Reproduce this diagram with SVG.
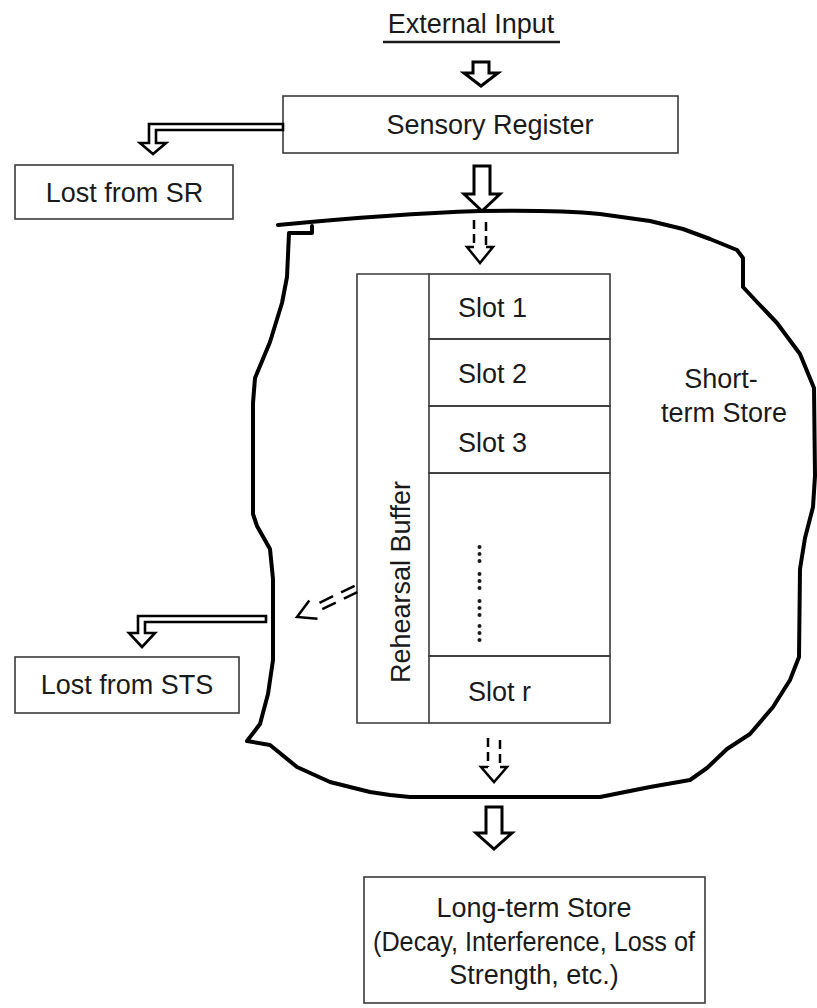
<svg xmlns="http://www.w3.org/2000/svg" width="817" height="1008" viewBox="0 0 817 1008">
<style>
text { font-family: "Liberation Sans", Arial, Helvetica, sans-serif; font-size: 27px; fill: #1a1a1a; }
.box { fill: #fff; stroke: #3a3a3a; stroke-width: 1.6; }
.grid { fill: none; stroke: #3a3a3a; stroke-width: 1.6; }
.harrow { fill: #fff; stroke: #000; stroke-width: 3; }
.larrow { fill: #fff; stroke: #000; stroke-width: 2.6; }
.dash { fill: none; stroke: #000; stroke-width: 2.5; stroke-dasharray: 9 5; }
.head { fill: none; stroke: #000; stroke-width: 2.5; }
.blob { fill: none; stroke: #000; stroke-width: 4; stroke-linejoin: round; stroke-linecap: round; }
.dot { fill: #1a1a1a; }
</style>
<rect width="817" height="1008" fill="#fff"/>

<g id="external-input">
  <text x="471" y="33" text-anchor="middle">External Input</text>
  <line x1="383" y1="42" x2="560" y2="42" stroke="#1a1a1a" stroke-width="2.5"/>
</g>

<g id="sensory-register">
  <rect class="box" x="283" y="96" width="395" height="57"/>
  <text x="490" y="134" text-anchor="middle">Sensory Register</text>
</g>

<g id="lost-from-sr">
  <rect class="box" x="15" y="165" width="218" height="54"/>
  <text x="124.5" y="202" text-anchor="middle">Lost from SR</text>
</g>

<g id="short-term-store">
  <path class="blob" d="M278,225 C330,220 420,213 480,211 C540,210 580,212 600,214 L650,221 L683,229 L710,239 L737,250 L743,258 L743,287 L757,302 L777,323 L800,354 L814,388 L815,476 L813,507 L805,538 L800,569 L799,657 L790,680 L773,707 L750,734 L727,749 L707,768 L690,780 L650,787 L600,797 L410,797 L390,795 L370,792 L330,782 L297,767 L270,745 L247,741 L260,724 L268,694 L273,660 L273,579 L270,549 L257,526 L253,514 L253,403 L255,378 L270,342 L282,303 L287,277 L289,233 L312,233 L312,226"/>
  <text x="721" y="388" text-anchor="middle">Short-</text>
  <text x="724" y="422" text-anchor="middle">term Store</text>
</g>

<g id="rehearsal-buffer">
  <polyline class="grid" points="429,274 357,274 357,723 429,723"/>
  <text transform="translate(410,582) rotate(-90)" text-anchor="middle">Rehearsal Buffer</text>
</g>

<g id="slot-1">
  <rect class="grid" x="429" y="274" width="181" height="65"/>
  <text x="458" y="317">Slot 1</text>
</g>
<g id="slot-2">
  <rect class="grid" x="429" y="339" width="181" height="67"/>
  <text x="458" y="383">Slot 2</text>
</g>
<g id="slot-3">
  <rect class="grid" x="429" y="406" width="181" height="67"/>
  <text x="458" y="452">Slot 3</text>
</g>
<g id="slot-ellipsis">
  <rect class="grid" x="429" y="473" width="181" height="183"/>
  <g class="dot">
    <circle cx="479.5" cy="547" r="2"/><circle cx="479.5" cy="554" r="2"/><circle cx="479.5" cy="561" r="2"/>
    <circle cx="479.5" cy="574" r="2"/><circle cx="479.5" cy="581" r="2"/><circle cx="479.5" cy="588" r="2"/>
    <circle cx="479.5" cy="601" r="2"/><circle cx="479.5" cy="608" r="2"/><circle cx="479.5" cy="615" r="2"/>
    <circle cx="479.5" cy="626" r="2"/><circle cx="479.5" cy="633" r="2"/><circle cx="479.5" cy="640" r="2"/>
  </g>
</g>
<g id="slot-r">
  <rect class="grid" x="429" y="656" width="181" height="67"/>
  <text x="468" y="701">Slot r</text>
</g>

<g id="lost-from-sts">
  <rect class="box" x="15" y="657" width="224" height="56"/>
  <text x="127" y="694" text-anchor="middle">Lost from STS</text>
</g>

<g id="long-term-store">
  <rect class="box" x="364" y="877" width="341" height="126"/>
  <text x="534" y="917" text-anchor="middle">Long-term Store</text>
  <text x="534" y="951" text-anchor="middle" textLength="322" lengthAdjust="spacingAndGlyphs">(Decay, Interference, Loss of</text>
  <text x="534" y="984" text-anchor="middle">Strength, etc.)</text>
</g>

<g id="connectors">
  <polygon class="harrow" points="473,62 489,62 489,73 498,73 481,86 464,73 473,73"/>
  <polygon class="harrow" points="474,166 490,166 490,194 500,194 482,211 464,194 474,194"/>
  <polygon class="harrow" points="486,807 502,807 502,833 512,833 494,849 476,833 486,833"/>
  <polygon class="larrow" points="283,124 149,124 149,143 140,143 153,154 166,143 156,143 156,130 283,130"/>
  <polygon class="larrow" points="266,616 138,616 138,633 129,633 142,647 155,633 145,633 145,622 266,622"/>
  <line class="dash" x1="474" y1="220" x2="474" y2="247"/>
  <line class="dash" x1="486" y1="222" x2="486" y2="247"/>
  <polyline class="head" points="474,247 467,247 480,263 493,247 486,247"/>
  <line class="dash" x1="488" y1="738" x2="488" y2="767"/>
  <line class="dash" x1="500" y1="740" x2="500" y2="767"/>
  <polyline class="head" points="488,767 481,767 494,782 507,767 500,767"/>
  <line class="dash" x1="357.4" y1="592.2" x2="314.8" y2="612.8" style="stroke-dasharray:15 9"/>
  <line class="dash" x1="354.6" y1="585.8" x2="312" y2="606.4" style="stroke-dasharray:15 9"/>
  <polyline class="head" points="309.3,600.5 297,617 317.5,618.7"/>
</g>
</svg>
